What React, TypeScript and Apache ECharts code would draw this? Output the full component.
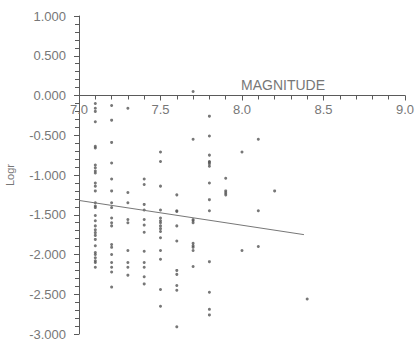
import React, { useEffect, useRef } from "react";
import * as echarts from "echarts";

// Magnitude columns and the log r values observed at each
const magnitudes = [7.1, 7.2, 7.3, 7.4, 7.5, 7.6, 7.7, 7.8, 7.9, 8.0, 8.1, 8.2, 8.4];
const logr71 = [-0.1, -0.16, -0.2, -0.33, -0.64, -0.66, -0.875, -0.91, -0.95, -0.975, -1.1, -1.14, -1.2, -1.35, -1.39, -1.41, -1.51, -1.575, -1.64, -1.69, -1.725, -1.76, -1.81, -1.89, -1.975, -2.0, -2.04, -2.08, -2.1, -2.16];
const logr72 = [-0.125, -0.31, -0.59, -0.85, -1.05, -1.2, -1.35, -1.41, -1.54, -1.6, -1.64, -1.875, -1.91, -2.0, -2.1, -2.16, -2.22, -2.41];
const logr73 = [-0.16, -1.22, -1.35, -1.56, -1.6, -1.95, -2.1, -2.16, -2.26];
const logr74 = [-1.05, -1.12, -1.37, -1.44, -1.56, -1.63, -1.72, -1.96, -2.1, -2.16, -2.28, -2.37];
const logr75 = [-0.71, -0.83, -1.14, -1.44, -1.54, -1.575, -1.6, -1.64, -1.675, -1.71, -1.79, -1.95, -2.06, -2.44, -2.65];
const logr76 = [-1.25, -1.45, -1.46, -1.64, -1.83, -2.2, -2.25, -2.39, -2.45, -2.91];
const logr77 = [0.05, -0.55, -1.56, -1.575, -1.6, -1.86, -1.89, -1.91, -1.95, -2.15];
const logr78 = [-0.26, -0.51, -0.75, -0.83, -0.84, -0.86, -0.89, -1.1, -1.31, -1.45, -2.09, -2.475, -2.69, -2.76];
const logr79 = [-1.04, -1.2, -1.225, -1.25];
const logr80 = [-0.71, -1.95];
const logr81 = [-0.55, -1.45, -1.9];
const logr82 = [-1.2];
const logr84 = [-2.56];
const columns = [logr71, logr72, logr73, logr74, logr75, logr76, logr77, logr78, logr79, logr80, logr81, logr82, logr84];

// Fitted regression line end points
const fitX = [7.0, 8.38];
const fitY = [-1.32, -1.75];

const xTicks = { min: 7, max: 9, step: 0.5 };
const yTicks = { min: -3, max: 1, step: 0.5 };

export default function App() {
  const ref = useRef<HTMLDivElement>(null);
  useEffect(() => {
    if (!ref.current) return;
    const chart = echarts.init(ref.current, undefined, { renderer: "svg" });
    const pts: number[][] = [];
    magnitudes.forEach((m, i) => columns[i].forEach((v) => pts.push([m, v])));
    const fit = fitX.map((x, i) => [x, fitY[i]]);
    const axisColor = "#5a5a5a";
    const textColor = "#777";
    const gridTop = 16;
    const gridBottom = 7;
    const plotH = 341 - gridTop - gridBottom;
    // distance from the bottom edge of the plot up to the zero line
    const zeroOffset = -(plotH * (0 - yTicks.min)) / (yTicks.max - yTicks.min);
    chart.setOption({
      animation: false,
      backgroundColor: "#fff",
      grid: {
        left: 79,
        top: gridTop,
        right: 10,
        bottom: gridBottom,
        containLabel: false,
        outerBoundsMode: "none",
      },
      xAxis: {
        type: "value",
        position: "bottom",
        offset: zeroOffset,
        min: xTicks.min,
        max: xTicks.max,
        interval: xTicks.step,
        name: "MAGNITUDE",
        nameLocation: "end",
        nameGap: -164,
        nameTextStyle: {
          color: textColor,
          fontSize: 14,
          fontFamily: "Liberation Sans",
          align: "left",
          verticalAlign: "bottom",
          padding: [0, 0, 4, 0],
        },
        axisLine: { onZero: false, lineStyle: { color: axisColor, width: 1 } },
        axisTick: { show: true, length: 5, lineStyle: { color: axisColor } },
        minorTick: { show: true, splitNumber: 5, length: 4, lineStyle: { color: axisColor } },
        axisLabel: {
          color: textColor,
          fontSize: 13,
          fontFamily: "Liberation Sans",
          margin: 7,
          formatter: (v: number) => v.toFixed(1),
        },
        splitLine: { show: false },
        minorSplitLine: { show: false },
      },
      yAxis: {
        type: "value",
        min: yTicks.min,
        max: yTicks.max,
        interval: yTicks.step,
        name: "Logr",
        nameLocation: "middle",
        nameGap: 64,
        nameTextStyle: { color: textColor, fontSize: 11, fontFamily: "Liberation Sans" },
        axisLine: { show: true, onZero: false, lineStyle: { color: axisColor, width: 1 } },
        axisTick: { show: true, length: 5, lineStyle: { color: axisColor } },
        minorTick: { show: true, splitNumber: 5, length: 4, lineStyle: { color: axisColor } },
        axisLabel: {
          color: textColor,
          fontSize: 13,
          lineHeight: 12,
          fontFamily: "Liberation Sans",
          margin: 13,
          formatter: (v: number) => v.toFixed(3),
        },
        splitLine: { show: false },
        minorSplitLine: { show: false },
      },
      series: [
        {
          type: "scatter",
          data: pts,
          symbol: "circle",
          symbolSize: 3,
          itemStyle: { color: "#555" },
        },
        {
          type: "line",
          data: fit,
          showSymbol: false,
          symbol: "none",
          lineStyle: { color: "#777", width: 1 },
        },
      ],
    });
    return () => chart.dispose();
  }, []);
  return <div ref={ref} style={{ width: 415, height: 341, position: "absolute", left: 0, top: 0 }} />;
}
